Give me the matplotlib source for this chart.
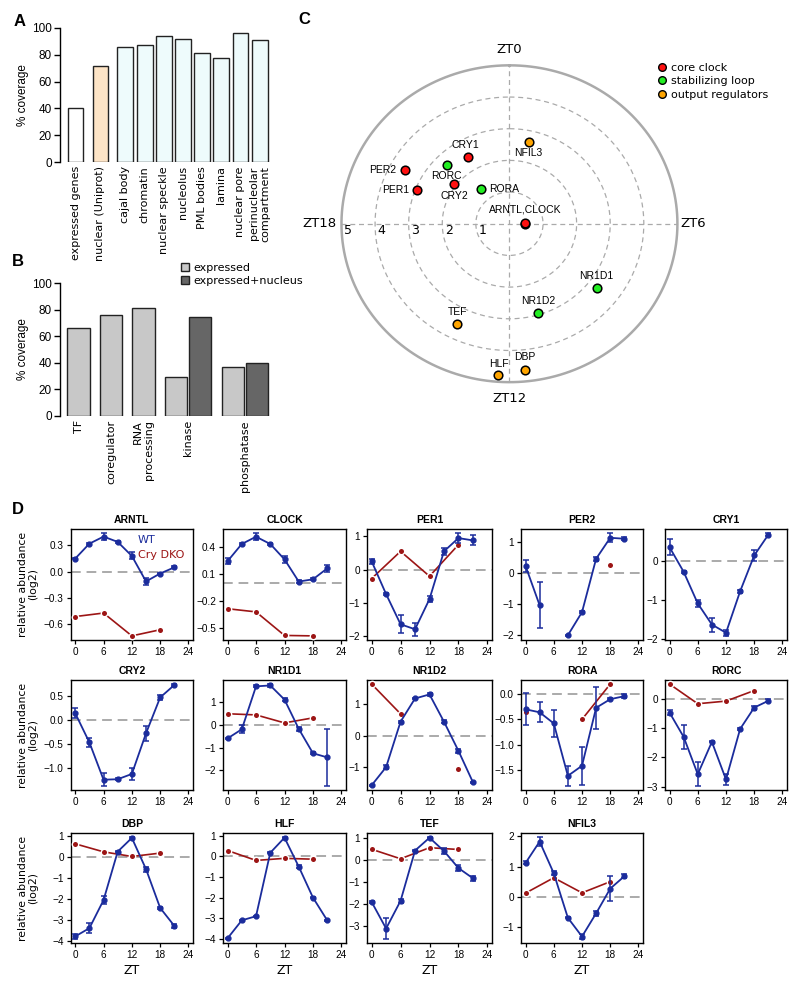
import numpy as np
import matplotlib
matplotlib.use("Agg")
import matplotlib.pyplot as plt
from matplotlib.patches import Patch
from matplotlib.lines import Line2D

# ---------------- data ----------------
# panel A: % coverage per compartment
catA = ["expressed genes", "nuclear (Uniprot)", "cajal body", "chromatin", "nuclear speckle",
        "nucleolus", "PML bodies", "lamina", "nuclear pore", "perinucleolar\ncompartment"]
valA = [40.5, 72, 86, 87, 94, 91.5, 81, 77.5, 96, 91]
colA = ["white", "#fde4c6"] + ["#eefbfc"] * 8

# panel B
catB = ["TF", "coregulator", "RNA\nprocessing", "kinase", "phosphatase"]
expressed = [66, 76, 81.5, 29.5, 36.5]
expr_nuc = [np.nan, np.nan, np.nan, 74.5, 40]

# panel C: amplitude (log2) and phase (ZT hours)
genesC = ["ARNTL", "CLOCK", "PER1", "PER2", "CRY1", "CRY2", "NR1D1", "NR1D2",
          "RORA", "RORC", "DBP", "HLF", "TEF", "NFIL3"]
ampC = [0.47, 0.45, 2.94, 3.54, 2.44, 2.06, 3.32, 2.95, 1.40, 2.63, 4.64, 4.80, 3.53, 2.64]
phaseC = [6.1, 5.9, 19.41, 19.91, 21.99, 20.47, 8.53, 10.89, 21.47, 20.98, 11.62, 12.26, 13.74, 0.83]
groupC = ["core", "core", "core", "core", "core", "core", "stab", "stab",
          "stab", "stab", "out", "out", "out", "out"]

# panel D: WT every 3 h (mean, s.e.), Cry DKO every 6 h
zt_wt = [0, 3, 6, 9, 12, 15, 18, 21]
zt_ko = [0, 6, 12, 18]
nan = np.nan
wt_mean = {
    "ARNTL": [0.15, 0.32, 0.40, 0.34, 0.18, -0.11, -0.02, 0.05],
    "CLOCK": [0.24, 0.43, 0.51, 0.43, 0.26, 0.015, 0.04, 0.16],
    "PER1": [0.25, -0.74, -1.65, -1.80, -0.89, 0.55, 0.95, 0.88],
    "PER2": [0.22, -1.04, nan, -2.0, -1.26, 0.45, 1.12, 1.09],
    "CRY1": [0.36, -0.27, -1.08, -1.62, -1.83, -0.77, 0.15, 0.68],
    "CRY2": [0.14, -0.47, -1.25, -1.24, -1.13, -0.28, 0.47, 0.73],
    "NR1D1": [-0.6, -0.2, 1.68, 1.72, 1.1, -0.18, -1.25, -1.43],
    "NR1D2": [-1.58, -1.0, 0.45, 1.19, 1.32, 0.45, -0.48, -1.48],
    "RORA": [-0.3, -0.36, -0.58, -1.62, -1.42, -0.27, -0.1, -0.04],
    "RORC": [-0.47, -1.3, -2.57, -1.47, -2.75, -1.03, -0.3, -0.07],
    "DBP": [-3.77, -3.38, -2.05, 0.25, 0.9, -0.58, -2.42, -3.27],
    "HLF": [-3.97, -3.1, -2.9, 0.17, 0.9, -0.5, -2.0, -3.1],
    "TEF": [-1.9, -3.1, -1.85, 0.42, 1.0, 0.4, -0.37, -0.83],
    "NFIL3": [1.12, 1.83, 0.78, -0.7, -1.32, -0.55, 0.27, 0.68],
}
wt_se = {
    "ARNTL": [0.01, 0.01, 0.04, 0.01, 0.04, 0.04, 0.01, 0.01],
    "CLOCK": [0.03, 0.01, 0.04, 0.01, 0.04, 0.02, 0.01, 0.04],
    "PER1": [0.08, 0.03, 0.27, 0.2, 0.08, 0.1, 0.15, 0.15],
    "PER2": [0.18, 0.74, 0, 0.02, 0.03, 0.07, 0.15, 0.04],
    "CRY1": [0.2, 0.02, 0.1, 0.18, 0.08, 0.03, 0.15, 0.04],
    "CRY2": [0.1, 0.1, 0.13, 0.02, 0.13, 0.16, 0.05, 0.02],
    "NR1D1": [0.04, 0.17, 0.04, 0.06, 0.05, 0.08, 0.04, 1.25],
    "NR1D2": [0.02, 0.07, 0.03, 0.03, 0.05, 0.04, 0.07, 0.02],
    "RORA": [0.32, 0.2, 0.27, 0.2, 0.38, 0.42, 0.02, 0.04],
    "RORC": [0.1, 0.42, 0.4, 0.02, 0.2, 0.04, 0.07, 0.05],
    "DBP": [0.12, 0.25, 0.2, 0.04, 0.04, 0.12, 0.04, 0.1],
    "HLF": [0.03, 0.03, 0.03, 0.03, 0.03, 0.07, 0.03, 0.03],
    "TEF": [0.03, 0.47, 0.08, 0.03, 0.03, 0.15, 0.12, 0.12],
    "NFIL3": [0.05, 0.15, 0.07, 0.02, 0.08, 0.08, 0.42, 0.07],
}
ko_mean = {
    "ARNTL": [-0.51, -0.47, -0.73, -0.66],
    "CLOCK": [-0.285, -0.32, -0.58, -0.585],
    "PER1": [-0.27, 0.55, -0.2, 0.75],
    "PER2": [nan, nan, nan, 0.25],
    "NR1D1": [0.48, 0.43, 0.08, 0.3],
    "NR1D2": [1.65, 0.7, nan, -1.06],
    "RORA": [-0.35, nan, -0.5, 0.2],
    "RORC": [0.5, -0.17, -0.08, 0.28],
    "DBP": [0.62, 0.24, 0.02, 0.18],
    "HLF": [0.28, -0.2, -0.1, -0.14],
    "TEF": [0.48, 0.05, 0.55, 0.47],
    "NFIL3": [0.12, 0.63, 0.13, 0.5],
}
yticks = {
    "ARNTL": [-0.6, -0.3, 0, 0.3], "CLOCK": [-0.5, -0.2, 0.1, 0.4],
    "PER1": [-2, -1, 0, 1], "PER2": [-2, -1, 0, 1], "CRY1": [-2, -1, 0],
    "CRY2": [-1.0, -0.5, 0.0, 0.5], "NR1D1": [-2, -1, 0, 1], "NR1D2": [-1, 0, 1],
    "RORA": [-1.5, -1.0, -0.5, 0.0], "RORC": [-3, -2, -1, 0],
    "DBP": [-4, -3, -2, -1, 0, 1], "HLF": [-4, -3, -2, -1, 0, 1],
    "TEF": [-3, -2, -1, 0, 1], "NFIL3": [-1, 0, 1, 2],
}
one_decimal = ["ARNTL", "CLOCK", "CRY2", "RORA"]
layoutD = [["ARNTL", "CLOCK", "PER1", "PER2", "CRY1"],
           ["CRY2", "NR1D1", "NR1D2", "RORA", "RORC"],
           ["DBP", "HLF", "TEF", "NFIL3"]]

BLUE = "#1b2c9c"
RED = "#9c1515"
SANS = "Liberation Sans"
LUC = "DejaVu Sans"

fig = plt.figure(figsize=(8, 9.88), dpi=100)


def px_axes(left, top, right, bottom):
    return fig.add_axes([left / 800, 1 - bottom / 988, (right - left) / 800, (bottom - top) / 988])


def bar_style(ax):
    for s in ["top", "right", "bottom"]:
        ax.spines[s].set_visible(False)
    ax.spines["left"].set_linewidth(1)
    ax.set_ylim(0, 100)
    ax.set_yticks(range(0, 101, 20))
    ax.tick_params(axis="y", labelsize=8.5, length=4, width=1, pad=2)
    for t in ax.get_yticklabels():
        t.set_family(SANS)
    ax.tick_params(axis="x", length=0, pad=3)
    ax.set_ylabel("% coverage", fontsize=8.5, family=SANS, labelpad=2)


# ---------------- panel A ----------------
axA = px_axes(60, 28, 275, 162)
posA = [0, 1.3, 2.6, 3.6, 4.6, 5.6, 6.6, 7.6, 8.6, 9.6]
axA.bar(posA, valA, width=0.83, color=colA, edgecolor="#222222", linewidth=1)
axA.set_xlim(-0.81, 10.4)
bar_style(axA)
axA.set_xticks(posA)
axA.set_xticklabels(catA, rotation=90, fontsize=8, family=LUC, va="top", ma="right")

# ---------------- panel B ----------------
axB = px_axes(60, 283, 275, 416)
posB = [0, 1, 2, 3, 4.75]
posB2 = [p + 0.75 for p in posB]
axB.bar(posB, expressed, width=0.68, color="#c8c8c8", edgecolor="#222222", linewidth=1)
axB.bar(posB2, expr_nuc, width=0.68, color="#666666", edgecolor="#222222", linewidth=1)
axB.set_xlim(-0.57, 6.05)
bar_style(axB)
labposB = [0, 1, 2, 3.375, 5.125]
axB.set_xticks(labposB)
axB.set_xticklabels(catB, rotation=90, fontsize=8, family=LUC, va="top", ma="right")
axB.legend(handles=[Patch(facecolor="#c8c8c8", edgecolor="#222222"),
                    Patch(facecolor="#666666", edgecolor="#222222")],
           labels=["expressed", "expressed+nucleus"], loc="upper left",
           bbox_to_anchor=(181 / 800, 1 - 263 / 988), bbox_transform=fig.transFigure,
           frameon=False, handlelength=0.75, handleheight=0.75, handletextpad=0.4,
           labelspacing=0.25, borderpad=0, borderaxespad=0, prop={"family": LUC, "size": 8})

# ---------------- panel C ----------------
axC = px_axes(297.8, 49.5, 795, 398)
axC.set_xlim(-6.3, 8.5)
axC.set_ylim(-5.5, 5.5)
axC.axis("off")
th = np.linspace(0, 2 * np.pi, 400)
for r in [1, 2, 3, 4]:
    axC.plot(r * np.sin(th), r * np.cos(th), color="#aaaaaa", lw=0.9, ls=(0, (4, 3)))
axC.plot(5 * np.sin(th), 5 * np.cos(th), color="#aaaaaa", lw=1.8)
axC.plot([-5, 5], [0, 0], color="#aaaaaa", lw=0.9, ls=(0, (4, 3)))
axC.plot([0, 0], [-5, 5], color="#aaaaaa", lw=0.9, ls=(0, (4, 3)))
for r in [1, 2, 3, 4, 5]:
    axC.text(-(r - 0.2), -0.22, str(r), fontsize=9, family=LUC, ha="center", va="center")
axC.text(0, 5.3, "ZT0", fontsize=9.5, family=LUC, ha="center", va="bottom")
axC.text(0, -5.3, "ZT12", fontsize=9.5, family=LUC, ha="center", va="top")
axC.text(5.1, 0, "ZT6", fontsize=9.5, family=LUC, ha="left", va="center")
axC.text(-5.15, 0, "ZT18", fontsize=9.5, family=LUC, ha="right", va="center")

gcol = {"core": "#ff1010", "stab": "#22ee22", "out": "#ffa500"}
ang = 2 * np.pi * np.array(phaseC) / 24
xC = np.array(ampC) * np.sin(ang)
yC = np.array(ampC) * np.cos(ang)
for g, x, y, grp in zip(genesC, xC, yC, groupC):
    axC.plot(x, y, "o", ms=6.2, mfc=gcol[grp], mec="black", mew=1.1, zorder=5)

# label placement (offset in points)
labC = {"ARNTL": ("ARNTL,CLOCK", 0, 7, "center", "bottom"),
        "PER1": ("PER1", -6, 0, "right", "center"),
        "PER2": ("PER2", -6, 0, "right", "center"),
        "CRY1": ("CRY1", -2, 5, "center", "bottom"),
        "CRY2": ("CRY2", 0, -4.5, "center", "top"),
        "NR1D1": ("NR1D1", -1, 5, "center", "bottom"),
        "NR1D2": ("NR1D2", 0, 5, "center", "bottom"),
        "RORA": ("RORA", 6, 0, "left", "center"),
        "RORC": ("RORC", 0, -4, "center", "top"),
        "DBP": ("DBP", 0, 5.5, "center", "bottom"),
        "HLF": ("HLF", 0, 5, "center", "bottom"),
        "TEF": ("TEF", 0, 5.5, "center", "bottom"),
        "NFIL3": ("NFIL3", 0, -4.5, "center", "top")}
for g, x, y in zip(genesC, xC, yC):
    if g in labC:
        txt, dx, dy, ha, va = labC[g]
        axC.annotate(txt, (x, y), xytext=(dx, dy), textcoords="offset points",
                     fontsize=7.5, family=SANS, ha=ha, va=va)

hC = [Line2D([], [], ls="none", marker="o", ms=5.5, mfc=gcol[k], mec="black", mew=1)
      for k in ["core", "stab", "out"]]
axC.legend(hC, ["core clock", "stabilizing loop", "output regulators"], loc="upper left",
           bbox_to_anchor=(659 / 800, 1 - 63 / 988), bbox_transform=fig.transFigure,
           frameon=False, handlelength=0.6, handletextpad=0.5, labelspacing=0.3,
           borderpad=0, borderaxespad=0, prop={"family": LUC, "size": 8})

# ---------------- panel D ----------------
cols = [(70.7, 193), (223, 346), (367, 492), (521, 643), (665, 787)]
rows = [(529, 640), (680, 790), (833, 943)]

for ri, genes in enumerate(layoutD):
    for ci, g in enumerate(genes):
        l, r = cols[ci]
        t, b = rows[ri]
        ax = px_axes(l, t, r, b)
        m = np.array(wt_mean[g], dtype=float)
        e = np.array(wt_se[g], dtype=float)
        vals = [m - e, m + e]
        if g in ko_mean:
            vals.append(np.array(ko_mean[g], dtype=float))
        lo = np.nanmin(np.concatenate(vals))
        hi = np.nanmax(np.concatenate(vals))
        pad = 0.04 * (hi - lo)
        ax.set_ylim(lo - pad, hi + pad)
        ax.set_xlim(-0.96, 24.96)
        ax.axhline(0, color="#aaaaaa", lw=1.4, ls=(0, (5, 3)), zorder=1)
        if g in ko_mean:
            ax.plot(zt_ko, ko_mean[g], color=RED, lw=1.2, zorder=2)
            ax.plot(zt_ko, ko_mean[g], ls="none", marker="o", ms=4, mfc=RED, mec="white",
                    mew=1.6, zorder=3)
            ax.plot(zt_ko, ko_mean[g], ls="none", marker="o", ms=3.6, mfc=RED, mec=RED,
                    mew=0, zorder=4)
        ax.errorbar(zt_wt, m, yerr=e, color=BLUE, lw=1.3, marker="o", ms=3.5,
                    capsize=2, elinewidth=1.1, capthick=1.1, zorder=5)
        ax.set_xticks([0, 6, 12, 18, 24])
        tk = yticks[g]
        ax.set_yticks(tk)
        fmt = "{:.1f}" if g in one_decimal else "{:.0f}"
        ax.set_yticklabels([fmt.format(v).replace("-", "\u2212") for v in tk])
        ax.tick_params(labelsize=7.2, length=3, width=0.9, pad=2)
        for lab in ax.get_xticklabels() + ax.get_yticklabels():
            lab.set_family(SANS)
        for s in ax.spines.values():
            s.set_linewidth(1)
        ax.set_title(g, fontsize=7.5, fontweight="bold", family=SANS, pad=4)
        if g == "ARNTL":
            ax.text(0.55, 0.9, "WT", color=BLUE, fontsize=8, family=LUC,
                    transform=ax.transAxes, ha="left", va="center")
            ax.text(0.55, 0.765, "Cry DKO", color=RED, fontsize=8, family=LUC,
                    transform=ax.transAxes, ha="left", va="center")
        if ri == 2:
            fig.text((l + r) / 2 / 800, 1 - 970 / 988, "ZT", fontsize=9, family=LUC,
                     ha="center", va="center")
    t, b = rows[ri]
    fig.text(28 / 800, 1 - (t + b) / 2 / 988, "relative abundance\n(log2)", rotation=90,
             fontsize=7.8, family=LUC, ha="center", va="center", linespacing=1.1)

# panel letters
for lab, x, y in [("A", 20, 21), ("B", 18, 262), ("C", 304, 20), ("D", 18, 509)]:
    fig.text(x / 800, 1 - y / 988, lab, fontsize=12, fontweight="bold", family=SANS,
             ha="center", va="center")

fig.savefig("out.png", dpi=100)
